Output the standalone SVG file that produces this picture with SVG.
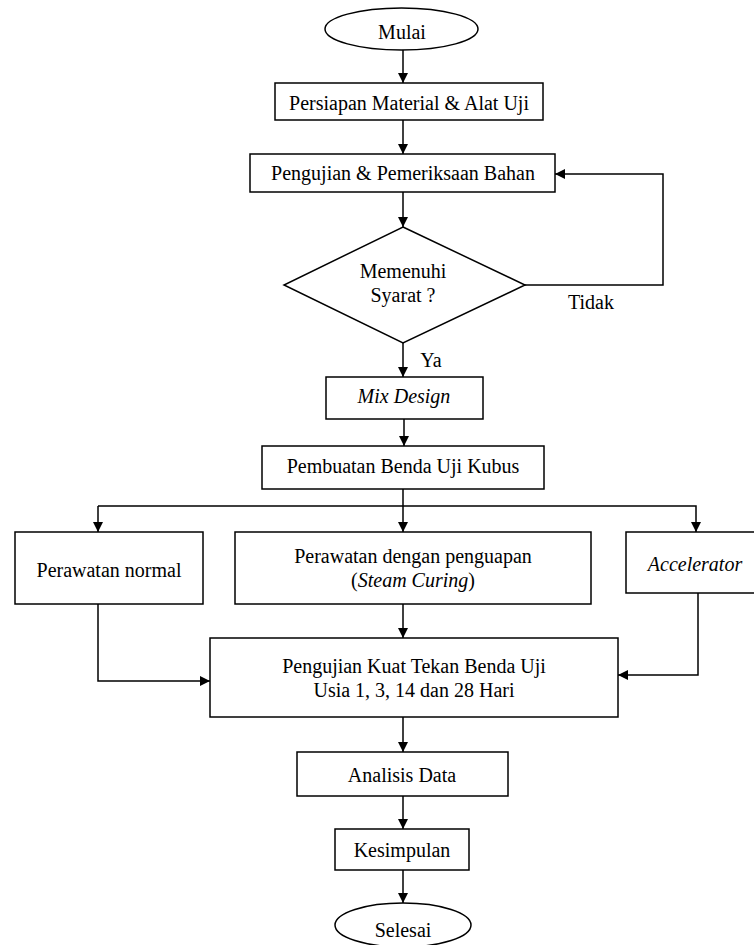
<svg xmlns="http://www.w3.org/2000/svg" width="754" height="945" viewBox="0 0 754 945">
<defs>
<marker id="ah" viewBox="0 0 10 10" refX="10" refY="5" markerWidth="10" markerHeight="10" markerUnits="userSpaceOnUse" orient="auto">
<path d="M0,0 L10,5 L0,10 z" fill="#000"/>
</marker>
<style>
.s{fill:#fff;stroke:#000;stroke-width:1.5}
.c{fill:none;stroke:#000;stroke-width:1.5;marker-end:url(#ah)}
.l{fill:none;stroke:#000;stroke-width:1.5}
text{font-family:"Liberation Serif","Times New Roman",serif;font-size:20px;fill:#000;text-anchor:middle}
.i{font-style:italic}
</style>
</defs>
<rect width="754" height="945" fill="#fff"/>
<g id="connectors">
<path class="c" d="M403,50 V83"/>
<path class="c" d="M403,120 V154"/>
<path class="c" d="M403,192 V227"/>
<path class="c" d="M525,285 H663 V174 H555"/>
<path class="c" d="M403,343 V377"/>
<path class="c" d="M404,419 V446"/>
<path class="l" d="M403,489 V506"/>
<path class="c" d="M98,506 H696 V532"/>
<path class="c" d="M98,506 V532"/>
<path class="c" d="M403,506 V532"/>
<path class="c" d="M98,604 V681 H210"/>
<path class="c" d="M698,593 V675 H618"/>
<path class="c" d="M403,604 V638"/>
<path class="c" d="M403,717 V752"/>
<path class="c" d="M403,796 V829"/>
<path class="c" d="M403,870 V903"/>
</g>
<g id="mulai"><ellipse class="s" cx="401.5" cy="29" rx="76.5" ry="21"/><text x="402" y="39">Mulai</text></g>
<g id="persiapan"><rect class="s" x="275" y="83" width="268" height="37"/><text x="409" y="110">Persiapan Material &amp; Alat Uji</text></g>
<g id="pengujian"><rect class="s" x="250" y="154" width="305" height="38"/><text x="403" y="180">Pengujian &amp; Pemeriksaan Bahan</text></g>
<g id="syarat"><polygon class="s" points="403,227 525,285 403,343 284,285"/><text x="403" y="278">Memenuhi</text><text x="403" y="302">Syarat ?</text></g>
<g id="label-tidak"><text x="591" y="309">Tidak</text></g>
<g id="label-ya"><text x="431" y="367">Ya</text></g>
<g id="mixdesign"><rect class="s" x="326" y="377" width="157" height="42"/><text class="i" x="404" y="403">Mix Design</text></g>
<g id="pembuatan"><rect class="s" x="262" y="446" width="282" height="43"/><text x="403" y="473">Pembuatan Benda Uji Kubus</text></g>
<g id="normal"><rect class="s" x="15" y="532" width="188" height="72"/><text x="109" y="577">Perawatan normal</text></g>
<g id="steam"><rect class="s" x="235" y="532" width="356" height="72"/><text x="413" y="563">Perawatan dengan penguapan</text><text x="413" y="587">(<tspan class="i">Steam Curing</tspan>)</text></g>
<g id="accelerator"><rect class="s" x="626" y="532" width="140" height="61"/><text class="i" x="695" y="571">Accelerator</text></g>
<g id="kuattekan"><rect class="s" x="210" y="638" width="408" height="79"/><text x="414" y="673">Pengujian Kuat Tekan Benda Uji</text><text x="414" y="697">Usia 1, 3, 14 dan 28 Hari</text></g>
<g id="analisis"><rect class="s" x="297" y="752" width="211" height="44"/><text x="402" y="782">Analisis Data</text></g>
<g id="kesimpulan"><rect class="s" x="335" y="829" width="134" height="41"/><text x="402" y="857">Kesimpulan</text></g>
<g id="selesai"><ellipse class="s" cx="403" cy="925" rx="68" ry="22"/><text x="403" y="937">Selesai</text></g>
</svg>
